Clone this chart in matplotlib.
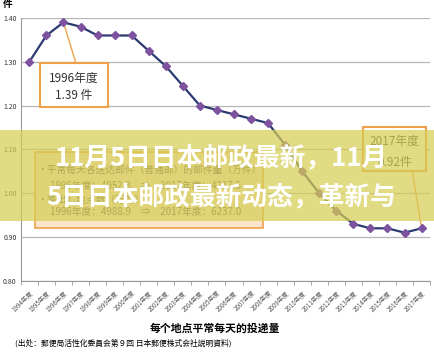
import matplotlib
matplotlib.use("Agg")
import matplotlib.pyplot as plt
from matplotlib.patches import Rectangle

plt.rcParams['font.family'] = ['Noto Sans CJK SC', 'DejaVu Sans']

# -------------------------------------------------------------
# Data: items delivered per location per day (件)
# -------------------------------------------------------------
years = [str(y) for y in range(1994, 2018)]
year_labels = [y + "年度" for y in years]
per_day = [1.30, 1.36, 1.39, 1.38, 1.36, 1.36, 1.36, 1.325, 1.29, 1.245,
           1.20, 1.19, 1.18, 1.17, 1.16, 1.11, 1.05, 1.00, 0.96, 0.93,
           0.92, 0.92, 0.91, 0.92]
y_ticks = [0.80, 0.90, 1.00, 1.10, 1.20, 1.30, 1.40]

x = list(range(len(years)))

fig = plt.figure(figsize=(4.34, 3.52), dpi=100)
ax = fig.add_axes([0.048, 0.202, 0.943, 0.747])

ax.plot(x, per_day, color="#2b3a70", lw=1.6, zorder=3)
ax.plot(x, per_day, ls="none", marker="D", ms=4.5, color="#7d539f", zorder=4)

ax.set_xlim(-0.5, len(years) - 0.5)
ax.set_ylim(0.80, 1.40)
ax.set_yticks(y_ticks)
ax.set_yticklabels([f"{v:.2f}" for v in y_ticks], fontsize=5, color="#333333")
ax.yaxis.grid(True, color="#b5b5b5", lw=0.9)
ax.set_axisbelow(True)
ax.tick_params(axis="y", length=0, pad=3)

ax.set_xticks(x)
ax.set_xticklabels(year_labels, rotation=45, ha="right", rotation_mode="anchor",
                   fontsize=4.5, color="#555555")
ax.set_xticks([i - 0.5 for i in x] + [len(years) - 0.5], minor=True)
ax.tick_params(axis="x", which="major", length=0, pad=6)
ax.tick_params(axis="x", which="minor", length=3, color="#999999")

for side in ["top", "right"]:
    ax.spines[side].set_visible(False)
ax.spines["left"].set_color("#999999")
ax.spines["bottom"].set_color("#999999")

ax.text(-0.02, 1.035, "件", transform=ax.transAxes, fontsize=7, weight="bold",
        ha="right", va="bottom")

# 1996 callout
ax.plot([2, 2.73], [1.39, 1.297], color="#f0a24a", lw=1.0, zorder=2)
ax.add_patch(Rectangle((0.62, 1.197), 4.0, 0.100, facecolor="white",
                       edgecolor="#f0a24a", lw=1.5, zorder=5))
ax.text(2.62, 1.263, "1996年度", fontsize=8.5, ha="center", va="center",
        color="#333333", zorder=6)
ax.text(2.62, 1.222, "1.39 件", fontsize=8.5, ha="center", va="center",
        color="#333333", zorder=6)

# 2017 callout
ax.plot([22.45, 23], [1.051, 0.92], color="#f0a24a", lw=1.0, zorder=2)
ax.add_patch(Rectangle((19.57, 1.051), 3.7, 0.100, facecolor="white",
                       edgecolor="#f0a24a", lw=1.5, zorder=5))
ax.text(21.42, 1.119, "2017年度", fontsize=8.5, ha="center", va="center",
        color="#333333", zorder=6)
ax.text(21.42, 1.071, "0.92件", fontsize=8.5, ha="center", va="center",
        color="#333333", zorder=6)

# mail volume note box
ax.add_patch(Rectangle((0.32, 0.921), 13.4, 0.173, facecolor="#fbe3cc",
                       edgecolor="#f0a24a", lw=1.2, zorder=5))
ax.text(0.45, 1.053, "・平常每天各送达邮件（普通邮）的邮件量（万件）", fontsize=7,
        ha="left", va="center", color="#555555", zorder=6)
ax.text(1.2, 1.017, "1996年度：4952.3　⇒　2017年度：4217.5", fontsize=7,
        ha="left", va="center", color="#555555", zorder=6)
ax.text(0.45, 0.985, "・差出し地点数（万件）", fontsize=7,
        ha="left", va="center", color="#555555", zorder=6)
ax.text(1.2, 0.958, "1996年度：4988.9　⇒　2017年度：6237.0", fontsize=7,
        ha="left", va="center", color="#555555", zorder=6)

fig.text(0.495, 0.066, "每个地点平常每天的投递量", fontsize=7.8, weight="bold",
         ha="center", va="center")
fig.text(0.035, 0.026, "(出处：郵便局活性化委員会第９回 日本郵便株式会社説明資料)",
         fontsize=5.6, ha="left", va="center")

# headline banner over the chart
fig.add_artist(Rectangle((0, 0.372), 1, 0.258, transform=fig.transFigure,
                         facecolor="#d6cd55", alpha=0.72, lw=0, zorder=10))
fig.text(0.51, 0.552, "11月5日日本邮政最新，11月", fontsize=18.5, weight="bold",
         color="white", ha="center", va="center", zorder=11)
fig.text(0.51, 0.44, "5日日本邮政最新动态，革新与", fontsize=18.5, weight="bold",
         color="white", ha="center", va="center", zorder=11)

fig.savefig("out.png", dpi=100)
